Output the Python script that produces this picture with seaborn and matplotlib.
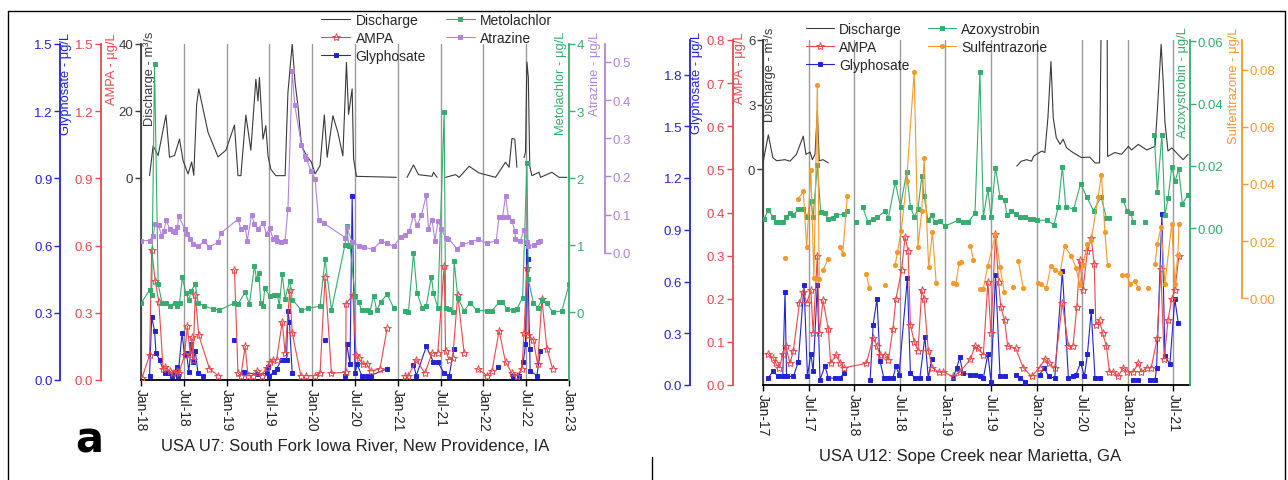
import numpy as np
import pandas as pd
import matplotlib
matplotlib.use("Agg")
import matplotlib.pyplot as plt
from matplotlib.lines import Line2D
from matplotlib.ticker import FormatStrFormatter
import seaborn as sns

sns.set_theme(style="white")
plt.rcParams["font.family"] = ["Liberation Sans", "DejaVu Sans"]
nan = np.nan

# ---------------- U7 South Fork Iowa River (months after Jan-2018) ----------------
u7_q_m = [1.2, 1.7, 2.4, 3.5, 4.0, 4.7, 5.4, 5.9, 6.6, 7.1,
          7.4, 7.8, 8.1, 9.4, 10.8, 11.9, 13.1, 13.6, 14.0, 14.7,
          15.4, 16.1, 16.4, 16.6, 17.1, 17.5, 17.8, 18.2, 18.9, 20.2,
          20.6, 21.2, 21.6, 22.0, 22.5, 23.2, 23.9, 24.4, 25.1, 25.7,
          26.1, 26.9, 27.6, 28.3, 28.8, 29.1, 29.6, 29.8, 30.2, 35.8,
          36.5, 37.3, 38.2, 38.9, 40.8, 41.0, 41.5, 42.1, 42.7, 44.1,
          44.6, 46.0, 47.4, 49.7, 51.1, 51.6, 52.0, 52.4, 52.7, 53.2,
          53.7, 53.9, 54.1, 54.3, 54.5, 54.8, 55.8, 56.0, 57.6, 58.6,
          59.7]
u7_q = [0.7, 9.6, 6.7, 18.8, 6.2, 6.7, 11.6, 5.2, 1.2, 4.8,
        0.8, 22, 26.6, 13.6, 6.3, 8.3, 15.8, 0.7, 0.7, 18.8,
        8.3, 29.5, 23, 30, 11.6, 15.6, 6.6, 2.6, 0.7, 0.7,
        25.6, 40, 28.5, 21.5, 9.6, 6.7, 4.7, 1.2, 3.7, 18.8,
        6.2, 18.6, 13.6, 6.6, 34.5, 19, 26.6, 5.7, 0.5, 0.2,
        nan, 0.2, 3.9, 1.0, 0.5, 1.7, 0.2, nan, 0.2, 1.0,
        0.2, 3.5, 1.5, 0.2, 4.7, 3.2, 11.8, 11.6, 3.2, nan,
        6.1, 7.7, 34.6, 30, 3.5, 0.7, 1.7, 0.2, 1.7, 0.2,
        0.2]

u7_gly_m = [1.2, 1.5, 1.9, 2.1, 2.6, 3.3, 3.8, 4.3, 4.7, 5.0,
            5.2, 5.75, 6.1, 6.4, 6.7, 7.05, 7.3, 7.6, 8.0, 8.7,
            10.0, 13.1, 13.8, 14.5, 16.2, 17.6, 17.8, 18.0, 18.65, 19.0,
            19.7, 20.2, 20.4, 20.6, 20.8, 21.2, 23.0, 25.8, 27.0, 28.6,
            28.85, 29.3, 29.6, 30.0, 30.3, 30.95, 31.65, 32.2, 34.5, 36.0,
            38.2, 38.6, 40.0, 41.0, 41.6, 42.5, 43.2, 43.9, 47.0, 50.1,
            51.0, 52.2, 53.0, 53.6, 53.9, 54.1, 54.2, 54.5, 54.55, 55.5,
            56.0]
u7_gly = [0.02, 0.28, 0.22, 0.12, 0.09, 0.03, 0.03, 0.02, 0.035, 0.06,
          0.02, 0.21, 0.11, 0.12, 0.035, 0.16, 0.08, 0.13, 0.03, 0.02,
          nan, 0.18, nan, 0.035, 0.025, 0.03, 0.06, 0.02, 0.035, 0.05,
          0.09, 0.09, 0.09, 0.31, 0.26, 0.03, nan, 0.18, nan, 0.02,
          0.16, 0.07, 0.82, 0.03, 0.07, 0.02, 0.02, 0.02, 0.05, nan,
          0.067, 0.02, 0.15, 0.08, 0.08, 0.03, 0.02, 0.14, nan, 0.06,
          nan, 0.02, 0.02, 0.08, 0.16, 0.61, 0.54, 0.14, 0.04, 0.02,
          0.13]

u7_ampa_m = [0.14, 1.2, 1.5, 2.0, 2.5, 3.1, 3.4, 4.0, 4.5, 5.0,
             5.3, 6.1, 6.5, 6.9, 7.15, 7.3, 7.6, 8.1, 9.6, 10.8,
             12.0, 13.1, 13.6, 14.0, 14.6, 15.0, 15.7, 16.2, 16.9, 17.6,
             18.05, 18.5, 19.0, 19.8, 20.2, 20.85, 21.2, 22.4, 23.2, 24.4,
             25.1, 25.8, 26.7, 28.7, 28.75, 29.7, 30.15, 30.5, 31.1, 31.65,
             32.2, 33.5, 34.5, 35.8, 37.0, 37.5, 38.6, 39.8, 40.8, 41.6,
             42.5, 42.7, 43.2, 43.7, 44.4, 45.3, 46.2, 47.2, 48.5, 49.2,
             50.2, 51.1, 52.0, 52.7, 53.4, 53.7, 54.1, 54.3, 55.0, 55.6,
             56.2, 56.9, 57.7]
u7_ampa = [0.01, 0.11, 0.58, 0.44, 0.35, 0.05, 0.06, 0.04, 0.03, 0.04,
           0.03, 0.11, 0.24, 0.115, 0.19, 0.09, 0.38, 0.2, 0.05, 0.02,
           nan, 0.49, 0.03, 0.02, 0.15, 0.02, 0.02, 0.04, 0.02, 0.055,
           0.08, 0.09, 0.09, 0.26, 0.12, 0.4, 0.21, 0.02, 0.02, 0.02,
           0.03, 0.46, 0.03, 0.035, 0.34, 0.38, 0.11, 0.1, 0.07, 0.07,
           0.04, 0.05, 0.23, nan, 0.02, 0.02, 0.09, 0.03, 0.12, 0.12,
           0.51, 0.13, 0.09, 0.1, 0.38, 0.12, nan, 0.05, 0.02, 0.04,
           0.22, 0.08, 0.03, 0.02, 0.05, 0.21, 0.5, 0.2, 0.18, 0.07,
           0.36, 0.14, 0.05]

u7_met_m = [0.05, 1.2, 1.5, 1.9, 2.4, 2.95, 3.55, 4.0, 4.7, 5.05,
            5.4, 5.8, 6.3, 6.7, 7.05, 7.6, 8.0, 8.9, 10.1, 11.0,
            13.1, 13.6, 14.6, 15.2, 15.9, 16.2, 16.5, 16.8, 17.1, 17.35,
            18.05, 18.7, 19.1, 19.4, 19.8, 20.2, 20.85, 21.2, 22.5, 23.45,
            25.1, 25.8, 26.7, 28.6, 28.85, 29.1, 29.3, 30.0, 30.5, 30.95,
            31.65, 32.1, 32.6, 33.05, 33.6, 34.5, 35.4, 36.2, 37.0, 37.5,
            38.2, 38.7, 39.4, 40.0, 40.7, 41.0, 41.6, 42.5, 42.7, 43.2,
            43.7, 43.9, 44.4, 45.3, 46.1, 47.1, 48.5, 49.2, 50.2, 50.6,
            51.3, 52.2, 52.7, 53.5, 54.1, 54.3, 55.0, 55.6, 56.2, 56.9,
            57.7, 59.0, 60.0]
u7_met = [0.14, 0.33, 0.25, 3.7, 0.42, 0.14, 0.14, 0.09, 0.14, 0.09,
          0.14, 0.52, 0.28, 0.19, 0.32, 0.42, 0.14, 0.09, 0.05, 0.03,
          0.14, 0.12, 0.3, 0.12, 0.69, 0.49, 0.59, 0.14, 0.09, 0.36,
          0.24, 0.25, 0.26, 0.1, 0.57, 0.2, 0.47, 0.19, 0.03, 0.06,
          0.09, 0.79, 0.03, 1.01, 1.29, 0.99, 1.01, 0.24, 0.15, 0.03,
          0.03, 0.01, 0.24, 0.03, 0.15, 0.27, 0.07, nan, 0.02, 0.01,
          0.88, 0.29, 0.07, 0.1, 0.53, 0.29, 0.07, 2.99, 0.07, 0.05,
          0.0, 0.77, 0.22, 0.02, 0.14, 0.03, 0.02, 0.02, 0.15, 0.16,
          0.05, 0.03, 0.05, 0.22, 2.23, 0.49, 0.14, 0.07, 0.18, 0.14,
          0.0, 0.02, 0.42]

u7_atr_m = [0.05, 1.2, 1.7, 2.0, 2.5, 2.85, 3.2, 3.55, 4.0, 4.5,
            4.8, 5.1, 5.3, 6.1, 6.5, 6.8, 7.3, 8.0, 8.8, 9.6,
            10.8, 11.2, 13.6, 14.0, 14.6, 14.9, 15.5, 15.9, 16.4, 17.1,
            17.6, 18.05, 18.5, 18.9, 19.1, 19.6, 20.2, 20.6, 21.2, 21.55,
            22.5, 22.95, 23.2, 23.8, 24.4, 24.9, 25.7, 28.6, 28.85, 29.6,
            30.5, 31.2, 32.5, 33.6, 34.5, 35.4, 36.4, 37.0, 37.6, 38.2,
            38.7, 39.3, 40.0, 40.3, 40.8, 41.2, 41.65, 42.1, 42.7, 43.1,
            44.3, 45.0, 46.2, 47.3, 48.5, 49.8, 50.2, 50.7, 51.1, 51.5,
            52.0, 52.4, 52.5, 53.2, 53.7, 54.1, 54.3, 55.1, 55.6, 56.0]
u7_atr = [0.032, 0.032, 0.045, 0.076, 0.072, 0.045, 0.058, 0.085, 0.063, 0.058,
          0.054, 0.067, 0.096, 0.063, 0.05, 0.037, 0.024, 0.017, 0.03, 0.015,
          0.028, 0.052, 0.088, 0.063, 0.067, 0.032, 0.1, 0.076, 0.063, 0.078,
          0.05, 0.065, 0.037, 0.041, 0.03, 0.028, 0.032, 0.115, 0.477, 0.386,
          0.283, 0.254, 0.246, 0.215, 0.194, 0.085, 0.077, 0.04, 0.068, 0.028,
          0.019, 0.015, 0.009, 0.03, 0.026, 0.017, 0.041, 0.047, 0.056, 0.098,
          0.072, 0.098, 0.152, 0.063, 0.087, 0.032, 0.084, 0.063, 0.039, 0.037,
          0.011, 0.022, 0.028, 0.035, 0.025, 0.032, 0.094, 0.094, 0.15, 0.094,
          0.084, 0.058, 0.037, 0.032, 0.061, 0.028, 0.019, 0.021, 0.028, 0.032]

# ---------------- U12 Sope Creek (months after Jan-2017) ----------------
u12_q_m = [0.04, 0.7, 1.3, 1.8, 2.9, 3.55, 4.4, 5.3, 5.65, 6.2,
           6.5, 6.85, 7.15, 7.4, 7.9, 8.6, 20.0, 33.4, 34.0, 34.7,
           35.35, 35.6, 36.0, 36.7, 37.1, 37.5, 37.9, 38.2, 38.6, 39.1,
           39.5, 39.96, 40.8, 41.9, 43.0, 43.7, 44.3, 44.5, 44.9, 45.3,
           45.35, 46.3, 47.2, 48.1, 48.5, 49.4, 50.5, 51.6, 51.9, 52.4,
           52.7, 52.9, 53.3, 53.8, 54.6, 55.3, 55.95]
u12_q = [0.38, 1.6, 0.54, 0.4, 0.45, 0.38, 0.7, 1.54, 0.7, 0.8,
         0.45, 0.7, 2.7, 0.4, 0.45, 0.3, nan, 0.15, 0.38, 0.45,
         0.38, 0.6, 0.7, 0.85, 0.78, 2.4, 5.0, 2.4, 1.47, 1.16,
         1.4, 1.0, 0.78, 0.55, 0.57, 0.3, 0.3, 6.5, nan, 6.5,
         0.6, 0.78, 0.7, 1.07, 0.9, 1.16, 0.9, 1.07, 2.7, 5.8,
         3.9, 2.2, 0.85, 1.0, 0.7, 0.45, 0.7]

u12_gly_m = [0.7, 1.3, 2.0, 2.6, 2.9, 3.1, 4.0, 4.65, 5.4, 5.85,
             6.3, 6.6, 7.15, 7.5, 8.15, 8.6, 9.5, 10.2, 10.6, 12.3,
             14.1, 14.5, 15.0, 15.4, 15.9, 16.5, 17.1, 17.5, 17.9, 19.0,
             19.4, 20.0, 20.65, 21.3, 21.75, 22.2, 23.6, 25.0, 25.5, 25.9,
             26.3, 27.2, 27.9, 28.55, 29.0, 29.6, 30.0, 30.6, 31.2, 31.85,
             32.5, 33.25, 33.8, 34.5, 35.5, 36.4, 37.0, 37.6, 38.4, 39.4,
             40.2, 40.8, 41.2, 41.8, 42.3, 42.7, 43.2, 43.7, 44.3, 46.5,
             48.7, 49.4, 50.2, 50.9, 51.6, 51.8, 52.5, 52.9, 53.55, 54.2,
             54.65]
u12_gly = [0.04, 0.08, 0.05, 0.05, 0.54, 0.05, 0.05, 0.135, 0.58, 0.05,
           0.18, 0.08, 0.58, 0.03, 0.11, 0.04, 0.04, 0.04, 0.07, nan,
           0.03, 0.35, 0.5, 0.14, 0.04, 0.04, 0.04, 0.11, 0.06, 0.62,
           0.07, 0.04, 0.04, 0.28, 0.04, 0.15, nan, 0.04, 0.1, 0.16,
           0.07, 0.06, 0.06, 0.05, 0.04, 0.18, 0.02, 0.64, 0.05, 0.05,
           nan, 0.06, 0.04, 0.02, nan, 0.06, 0.1, 0.05, 0.04, 0.66,
           0.04, 0.05, 0.06, 0.13, 0.05, 0.18, 0.43, 0.04, 0.04, nan,
           0.03, 0.03, nan, 0.03, 0.03, 0.1, 0.99, 0.17, 0.12, 0.5,
           0.36]

u12_ampa_m = [0.7, 1.3, 1.7, 2.15, 2.6, 3.0, 3.55, 4.0, 4.8, 5.3,
              5.75, 6.3, 6.6, 7.15, 7.4, 7.9, 8.6, 8.9, 9.6, 10.2,
              10.65, 13.6, 14.5, 15.0, 15.4, 16.05, 16.5, 17.1, 17.5, 18.25,
              18.7, 19.1, 19.4, 19.9, 20.4, 20.9, 21.2, 21.75, 22.3, 23.1,
              23.7, 25.0, 25.9, 27.3, 27.9, 28.3, 29.0, 29.6, 30.0, 30.6,
              31.0, 31.3, 31.8, 32.2, 33.25, 34.25, 35.35, 36.4, 37.1, 37.6,
              38.4, 39.4, 40.2, 40.8, 41.3, 41.7, 42.1, 42.7, 43.2, 43.6,
              43.8, 44.3, 44.7, 45.2, 45.6, 46.1, 46.75, 47.4, 47.9, 48.7,
              49.4, 49.8, 50.5, 51.1, 51.9, 52.35, 52.8, 53.3, 53.8, 54.2,
              54.75]
u12_ampa = [0.071, 0.063, 0.05, 0.04, 0.071, 0.091, 0.05, 0.08, 0.19, 0.216,
            0.19, 0.22, 0.12, 0.3, 0.12, 0.196, 0.13, 0.05, 0.07, 0.05,
            0.04, 0.05, 0.11, 0.09, 0.07, 0.07, 0.058, 0.13, 0.2, 0.267,
            0.344, 0.31, 0.14, 0.1, 0.08, 0.22, 0.2, 0.08, 0.04, 0.03,
            0.03, 0.02, 0.03, 0.06, 0.09, 0.085, 0.07, 0.24, 0.12, 0.35,
            0.24, 0.18, 0.15, 0.09, 0.085, 0.04, 0.02, 0.04, 0.06, 0.05,
            0.04, 0.19, 0.09, 0.09, 0.18, 0.29, 0.22, 0.31, 0.34, 0.28,
            0.14, 0.15, 0.12, 0.09, 0.03, 0.03, 0.02, 0.04, 0.03, 0.03,
            0.05, 0.03, 0.04, 0.04, 0.11, 0.27, 0.06, 0.15, 0.2, 0.22,
            0.3]

u12_azo_m = [0.13, 0.7, 1.3, 1.7, 2.2, 2.6, 3.0, 3.5, 4.0, 4.65,
             5.3, 5.85, 6.3, 6.6, 7.15, 7.6, 8.15, 8.6, 9.2, 9.6,
             10.6, 11.1, 11.6, 12.2, 12.6, 13.1, 13.8, 14.5, 15.0, 16.05,
             16.5, 17.4, 18.1, 18.9, 19.4, 19.9, 20.4, 20.9, 21.2, 21.7,
             22.2, 22.6, 23.3, 23.9, 25.7, 26.3, 27.0, 27.9, 28.55, 29.0,
             29.6, 30.0, 30.6, 31.2, 31.8, 32.1, 32.6, 33.25, 33.85, 34.5,
             35.1, 35.6, 36.1, 37.4, 38.3, 38.85, 39.4, 39.85, 40.9, 41.8,
             42.6, 43.5, 44.5, 45.2, 45.6, 46.5, 47.4, 47.9, 48.4, 48.7,
             49.5, 50.3, 51.0, 51.5, 51.9, 52.5, 52.9, 53.3, 53.8, 54.25,
             54.7, 55.2, 55.95]
u12_azo = [0.0029, 0.0058, 0.0036, 0.0018, 0.002, 0.0018, 0.0036, 0.0047, 0.0041, 0.0061,
           0.0061, 0.0036, 0.0087, 0.0036, 0.0202, 0.0052, 0.0047, 0.0028, 0.0033, 0.0042,
           0.0045, 0.0054, nan, 0.002, nan, 0.0069, 0.002, 0.0029, 0.0034, 0.0054,
           0.0033, 0.0147, 0.0069, 0.0179, 0.0069, 0.0036, 0.0061, 0.0167, 0.0104, 0.0025,
           0.0042, 0.0018, 0.0022, 0.0006, 0.0025, 0.0018, 0.002, 0.0047, 0.05, 0.0036,
           0.0125, 0.0036, 0.0194, 0.01, 0.009, 0.0041, 0.0054, 0.0044, 0.0036, 0.0036,
           0.003, 0.003, 0.0025, 0.0025, 0.001, 0.0068, 0.0197, 0.0068, 0.0061, 0.0143,
           0.01, 0.0056, 0.01, 0.0033, 0.0033, nan, 0.009, 0.0056, 0.005, 0.0018,
           nan, 0.0018, nan, 0.0299, 0.0117, 0.03, 0.0041, 0.0095, 0.0196, 0.0151,
           0.019, 0.0078, 0.0107]

u12_sul_m = [2.9, 3.6, 4.65, 5.3, 5.75, 6.3, 6.7, 7.15, 7.4, 7.65,
             7.9, 8.6, 9.3, 10.1, 10.5, 11.1, 12.0, 13.6, 14.0, 15.0,
             16.0, 16.7, 17.4, 17.7, 18.2, 18.9, 19.9, 20.4, 20.9, 21.2,
             21.8, 22.3, 22.8, 24.0, 25.0, 25.4, 25.8, 26.1, 26.7, 27.3,
             27.7, 28.1, 28.55, 29.0, 29.6, 30.6, 31.2, 31.75, 32.3, 32.9,
             33.2, 33.6, 34.25, 35.0, 36.2, 36.6, 37.3, 37.9, 38.4, 39.1,
             39.7, 40.6, 41.2, 41.7, 42.1, 42.7, 43.2, 44.1, 44.55, 45.0,
             45.35, 46.3, 47.2, 47.9, 48.3, 48.9, 49.4, 50.0, 50.7, 51.2,
             51.6, 51.9, 52.4, 52.9, 53.8, 54.2, 54.6, 54.75]
u12_sul = [0.0141, nan, 0.0347, 0.0375, 0.0179, 0.0449, 0.0069, 0.0747, 0.0066, nan,
           0.0098, 0.0138, nan, 0.0179, 0.0156, 0.0359, nan, 0.0083, 0.0034, nan,
           0.0045, nan, 0.0116, 0.0162, 0.0236, 0.041, 0.0794, 0.018, 0.0305, 0.0492,
           0.0109, 0.0232, 0.0051, nan, 0.0051, 0.005, 0.0122, 0.0125, nan, 0.0183,
           0.0134, nan, 0.0033, 0.0033, 0.0114, 0.0223, 0.0109, 0.0022, nan, 0.004,
           nan, 0.013, 0.0036, nan, 0.0051, 0.0048, 0.0036, 0.0114, 0.0099, 0.0088,
           0.0181, 0.0146, 0.0105, 0.0044, 0.0116, 0.0191, 0.0202, 0.0355, 0.0432, 0.023,
           0.0116, nan, 0.0081, 0.008, 0.0049, 0.006, 0.0036, nan, 0.0036, nan,
           0.012, 0.019, 0.025, 0.005, 0.026, 0.005, 0.015, 0.026]

u7_ticks = ["Jan-18", "Jul-18", "Jan-19", "Jul-19", "Jan-20", "Jul-20",
            "Jan-21", "Jul-21", "Jan-22", "Jul-22", "Jan-23"]
u12_ticks = ["Jan-17", "Jul-17", "Jan-18", "Jul-18", "Jan-19", "Jul-19",
             "Jan-20", "Jul-20", "Jan-21", "Jul-21"]

C_Q = "#3a3a3a"
C_GLY = "#2323d6"
C_AMPA = "#e8484a"
C_GRN = "#34ad6e"
C_ATR = "#b283dc"
C_SUL = "#f39a2c"
W, H = 1288, 481


def draw(ax, m, v, color, marker=None, ms=3.0, mfc=None, lw=0.8):
    assert len(m) == len(v)
    df = pd.DataFrame({"m": m, "v": v})
    df["seg"] = df["v"].isna().cumsum()
    df = df.dropna()
    kw = dict(color=color, lw=lw)
    if marker:
        kw.update(marker=marker, markersize=ms, markeredgewidth=0.7,
                  markerfacecolor=mfc or color, markeredgecolor=color)
    sns.lineplot(data=df, x="m", y="v", units="seg", estimator=None, sort=False,
                 ax=ax, legend=False, **kw)
    ax.set_xlabel("")
    ax.set_ylabel("")
    return Line2D([], [], **kw)


def add_axis(host, side, pos, color, ylim, ticks, fmt, bounds=None):
    ax = host.twinx()
    for s in ax.spines.values():
        s.set_visible(False)
    sp = ax.spines[side]
    sp.set_visible(True)
    sp.set_color(color)
    sp.set_linewidth(1.3)
    sp.set_position(("axes", pos))
    ax.yaxis.set_ticks_position(side)
    ax.set_ylim(ylim)
    ax.set_yticks(ticks)
    ax.yaxis.set_major_formatter(FormatStrFormatter(fmt))
    ax.tick_params(axis="y", colors=color, labelsize=9.5, length=4, width=1,
                   direction="out", pad=1.5)
    if bounds:
        sp.set_bounds(*bounds)
    ax.grid(False)
    return ax


def setup_host(ax, xlim, xticks, xlabels, ylim, yticks):
    ax.set_xlim(xlim)
    ax.set_ylim(ylim)
    ax.set_xticks(xticks)
    ax.set_xticklabels(xlabels, rotation=-90, fontsize=10, color="#222")
    ax.set_yticks(yticks)
    ax.yaxis.set_major_formatter(FormatStrFormatter("%d"))
    for s in ["top", "right"]:
        ax.spines[s].set_visible(False)
    ax.spines["left"].set_color(C_Q)
    ax.spines["left"].set_linewidth(1.3)
    ax.spines["bottom"].set_color("black")
    ax.spines["bottom"].set_linewidth(1.3)
    ax.tick_params(axis="x", bottom=True, direction="out", length=4, width=1,
                   color="black", pad=2)
    ax.tick_params(axis="y", left=True, direction="out", length=4, width=1,
                   colors=C_Q, labelsize=9.5, pad=1.5)
    ax.xaxis.grid(True, color="#9a9a9a", lw=1)
    ax.yaxis.grid(False)
    ax.set_axisbelow(True)
    ax.set_xlabel("")
    ax.set_ylabel("")


def vlabel(host, x, y, text, color):
    host.text(x, y, text, transform=host.transAxes, rotation=90, ha="center",
              va="top", color=color, fontsize=9.3)


fig = plt.figure(figsize=(12.88, 4.81), dpi=100)

# ---------------- panel a: U7 ----------------
ax = fig.add_axes([141 / W, 1 - 381 / H, 428 / W, 336 / H])
h_q = draw(ax, u7_q_m, u7_q, C_Q, lw=0.8)
setup_host(ax, (0, 60), list(range(0, 61, 6)), u7_ticks, (-60.3, 40), [0, 20, 40])
ax_g = add_axis(ax, "left", -0.189, C_GLY, (0, 1.5), np.arange(0, 1.51, 0.3), "%.1f")
ax_a = add_axis(ax, "left", -0.0935, C_AMPA, (0, 1.5), np.arange(0, 1.51, 0.3), "%.1f")
ax_m = add_axis(ax, "right", 1.0, C_GRN, (-1.01, 4), [0, 1, 2, 3, 4], "%d")
ax_t = add_axis(ax, "right", 1.084, C_ATR, (-0.333, 0.547), np.arange(0, 0.51, 0.1), "%.1f",
                bounds=(0, 0.547))
h_m = draw(ax_m, u7_met_m, u7_met, C_GRN, "s", 2.6)
h_t = draw(ax_t, u7_atr_m, u7_atr, C_ATR, "s", 2.6)
h_a = draw(ax_a, u7_ampa_m, u7_ampa, C_AMPA, "*", 6, mfc="none")
h_g = draw(ax_g, u7_gly_m, u7_gly, C_GLY, "s", 3)
ax_g.set_ylim(0, 1.5)
ax_a.set_ylim(0, 1.5)
ax_m.set_ylim(-1.01, 4)
ax_t.set_ylim(-0.333, 0.547)
ax.set_xlim(0, 60)

vlabel(ax, -0.175, 1.036, "Glyphosate - μg/L", C_GLY)
vlabel(ax, -0.068, 1.036, "AMPA - μg/L", C_AMPA)
vlabel(ax, 0.019, 1.039, "Discharge - m³/s", C_Q)
vlabel(ax, 0.981, 1.039, "Metolachlor - μg/L", C_GRN)
vlabel(ax, 1.061, 1.039, "Atrazine - μg/L", C_ATR)

fig.legend([h_q, h_a, h_g, h_m, h_t],
           ["Discharge", "AMPA", "Glyphosate", "Metolachlor", "Atrazine"],
           loc="upper left", bbox_to_anchor=(321 / W, 1 - 14 / H), ncol=2,
           frameon=False, fontsize=10, handlelength=2.1, handletextpad=0.4,
           labelspacing=0.28, columnspacing=1.4, borderpad=0, borderaxespad=0)

fig.text(355 / W, 1 - 447 / H, "USA U7: South Fork Iowa River, New Providence, IA",
         ha="center", va="center", fontsize=12, color="#222")
fig.text(75 / W, 1 - 441 / H, "a", ha="left", va="center", fontsize=30,
         fontweight="bold", family="DejaVu Sans", color="black")

# ---------------- panel: U12 ----------------
bx = fig.add_axes([763 / W, 1 - 386 / H, 427 / W, 345 / H])
k_q = draw(bx, u12_q_m, u12_q, C_Q, lw=0.8)
setup_host(bx, (0, 56.2), list(range(0, 55, 6)), u12_ticks, (-10, 6), [0, 3, 6])
bx_g = add_axis(bx, "left", -0.171, C_GLY, (0, 2.0), np.arange(0, 1.81, 0.3), "%.1f")
bx_a = add_axis(bx, "left", -0.0703, C_AMPA, (0, 0.8), np.arange(0, 0.81, 0.1), "%.1f")
bx_z = add_axis(bx, "right", 1.0, C_GRN, (-0.0504, 0.0604), [0, 0.02, 0.04, 0.06], "%.2f")
bx_s = add_axis(bx, "right", 1.122, C_SUL, (-0.0305, 0.0905), np.arange(0, 0.081, 0.02), "%.2f",
                bounds=(0, 0.0905))
k_z = draw(bx_z, u12_azo_m, u12_azo, C_GRN, "s", 2.6)
k_s = draw(bx_s, u12_sul_m, u12_sul, C_SUL, "o", 3)
k_a = draw(bx_a, u12_ampa_m, u12_ampa, C_AMPA, "*", 6, mfc="none")
k_g = draw(bx_g, u12_gly_m, u12_gly, C_GLY, "s", 3)
bx_g.set_ylim(0, 2.0)
bx_a.set_ylim(0, 0.8)
bx_z.set_ylim(-0.0504, 0.0604)
bx_s.set_ylim(-0.0305, 0.0905)
bx.set_xlim(0, 56.2)

vlabel(bx, -0.155, 1.026, "Glyphosate - μg/L", C_GLY)
vlabel(bx, -0.054, 1.026, "AMPA - μg/L", C_AMPA)
vlabel(bx, 0.016, 1.04, "Discharge - m³/s", C_Q)
vlabel(bx, 0.984, 1.04, "Azoxystrobin - μg/L", C_GRN)
vlabel(bx, 1.103, 1.04, "Sulfentrazone - μg/L", C_SUL)

fig.legend([k_q, k_a, k_g, k_z, k_s],
           ["Discharge", "AMPA", "Glyphosate", "Azoxystrobin", "Sulfentrazone"],
           loc="upper left", bbox_to_anchor=(806 / W, 1 - 23 / H), ncol=2,
           frameon=False, fontsize=10, handlelength=2.0, handletextpad=0.4,
           labelspacing=0.3, columnspacing=1.3, borderpad=0, borderaxespad=0)

fig.text(970 / W, 1 - 456 / H, "USA U12: Sope Creek near Marietta, GA",
         ha="center", va="center", fontsize=12, color="#222")

# figure frame
for xs, ys in [((8, 1285), (12, 12)), ((8, 8), (12, 481)), ((1285, 1285), (12, 481)),
               ((652, 652), (458, 481))]:
    fig.add_artist(Line2D([x / W for x in xs], [1 - y / H for y in ys],
                          transform=fig.transFigure, color="black", lw=1))

fig.savefig("out.png", dpi=100)
